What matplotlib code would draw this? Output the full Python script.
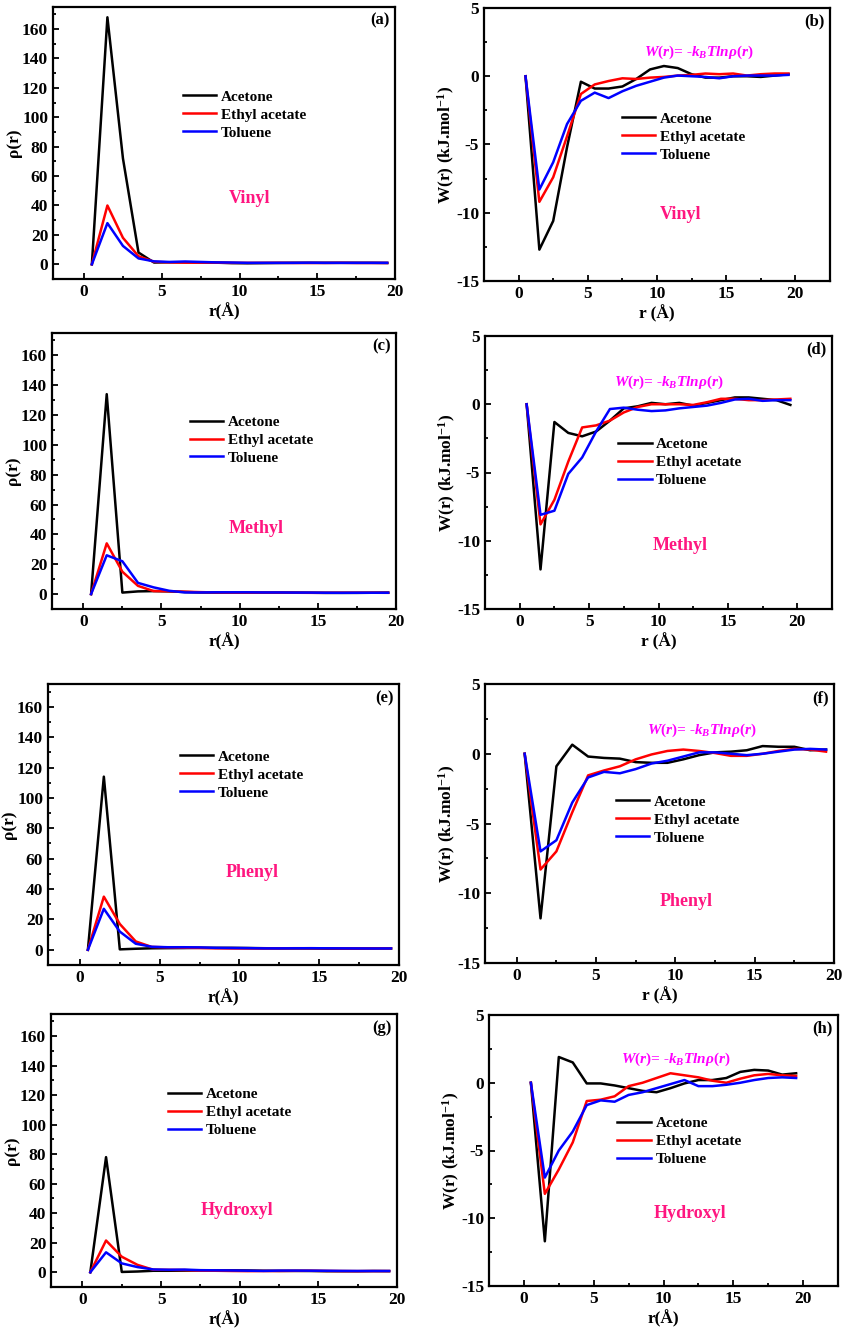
import matplotlib
matplotlib.use("Agg")
import matplotlib.pyplot as plt
from matplotlib.ticker import MultipleLocator

plt.rcParams['font.family'] = ['Liberation Serif', 'DejaVu Serif']
plt.rcParams['font.weight'] = 'bold'
plt.rcParams['axes.unicode_minus'] = False
plt.rcParams['mathtext.fontset'] = 'custom'
plt.rcParams['mathtext.rm'] = 'Liberation Serif:bold'
plt.rcParams['mathtext.it'] = 'Liberation Serif:bold:italic'
plt.rcParams['mathtext.bf'] = 'Liberation Serif:bold'

# ---------------- data ----------------
r = [0.5, 1.5, 2.5, 3.5, 4.5, 5.5, 6.5, 7.5, 8.5, 9.5,
     10.5, 11.5, 12.5, 13.5, 14.5, 15.5, 16.5, 17.5, 18.5, 19.5]
solvents = ["Acetone", "Ethyl acetate", "Toluene"]
groups = ["Vinyl", "Methyl", "Phenyl", "Hydroxyl"]

# rho(r)
rho_vinyl_ace = [0, 168, 72, 8, 1.2, 1.4, 1.4, 1.3, 1.1, 0.8, 0.7, 0.8, 0.9, 1.0, 1.0, 1.0, 1.0, 1.0, 1.0, 0.9]
rho_vinyl_eth = [0, 40, 18, 5.5, 1.7, 1.3, 1.1, 1.1, 1.1, 1.0, 1.0, 1.0, 1.0, 0.9, 0.9, 0.9, 1.0, 0.9, 0.9, 0.9]
rho_vinyl_tol = [0, 28, 12.5, 4.0, 2.0, 1.6, 1.9, 1.6, 1.3, 1.2, 1.0, 1.0, 1.0, 1.0, 1.1, 1.0, 1.0, 1.0, 1.0, 1.0]

rho_methyl_ace = [0, 134, 1.0, 1.8, 2.0, 1.8, 1.4, 1.1, 1.0, 1.0, 1.0, 1.0, 1.0, 1.0, 0.9, 0.8, 0.8, 0.8, 0.9, 1.0]
rho_methyl_eth = [0, 34, 15, 5.5, 2.0, 1.9, 1.6, 1.3, 1.1, 1.0, 1.0, 1.0, 1.0, 0.9, 0.85, 0.85, 0.9, 0.9, 0.9, 0.85]
rho_methyl_tol = [0, 26, 22, 7.5, 4.5, 2.2, 1.1, 1.1, 1.2, 1.2, 1.2, 1.1, 1.1, 1.0, 1.0, 0.9, 0.85, 0.9, 0.9, 0.9]

rho_phenyl_ace = [0, 114, 0.3, 0.7, 1.0, 1.1, 1.15, 1.3, 1.3, 1.3, 1.2, 1.05, 0.95, 0.95, 0.9, 0.8, 0.8, 0.8, 0.9, 0.9]
rho_phenyl_eth = [0, 35, 17, 5.5, 1.9, 1.6, 1.4, 1.2, 1.0, 0.9, 0.9, 0.9, 1.0, 1.05, 1.05, 1.0, 0.9, 0.85, 0.9, 0.95]
rho_phenyl_tol = [0, 27, 12, 4.0, 2.0, 1.7, 1.7, 1.6, 1.3, 1.2, 1.1, 0.95, 0.95, 1.0, 1.05, 1.0, 0.95, 0.9, 0.85, 0.9]

rho_hydroxyl_ace = [0, 78, 0.2, 0.5, 1.0, 1.0, 1.1, 1.2, 1.3, 1.3, 1.2, 1.0, 0.9, 0.9, 0.85, 0.7, 0.7, 0.7, 0.8, 0.75]
rho_hydroxyl_eth = [0, 21.5, 10.5, 5.0, 1.7, 1.6, 1.5, 1.1, 1.0, 0.85, 0.75, 0.8, 0.85, 0.95, 1.0, 0.9, 0.8, 0.75, 0.8, 0.8]
rho_hydroxyl_tol = [0, 13.5, 6.0, 3.5, 1.9, 1.7, 1.8, 1.4, 1.3, 1.2, 1.05, 0.9, 1.1, 1.1, 1.05, 1.0, 0.9, 0.85, 0.85, 0.85]

# W(r)
w_vinyl_ace = [0, -12.7, -10.6, -5.2, -0.4, -0.9, -0.9, -0.75, -0.2, 0.5, 0.75, 0.6, 0.15, -0.1, -0.1, 0.0, 0.0, -0.05, 0.05, 0.15]
w_vinyl_eth = [0, -9.2, -7.4, -4.4, -1.3, -0.6, -0.35, -0.15, -0.2, -0.1, -0.05, 0.05, 0.1, 0.2, 0.15, 0.2, 0.05, 0.15, 0.2, 0.2]
w_vinyl_tol = [0, -8.3, -6.3, -3.5, -1.8, -1.2, -1.6, -1.1, -0.7, -0.4, -0.1, 0.05, 0.0, -0.05, -0.15, 0.0, 0.05, 0.05, 0.05, 0.1]

w_methyl_ace = [0, -12.1, -1.3, -2.1, -2.35, -2.0, -1.2, -0.3, -0.15, 0.1, 0.0, 0.1, -0.1, 0.1, 0.3, 0.5, 0.5, 0.4, 0.3, -0.05]
w_methyl_eth = [0, -8.8, -7.0, -4.2, -1.7, -1.55, -1.2, -0.6, -0.2, 0.0, 0.0, 0.0, -0.05, 0.15, 0.4, 0.4, 0.3, 0.3, 0.35, 0.4]
w_methyl_tol = [0, -8.1, -7.8, -5.1, -3.9, -2.0, -0.35, -0.25, -0.4, -0.5, -0.45, -0.3, -0.2, -0.1, 0.1, 0.35, 0.4, 0.25, 0.3, 0.3]

w_phenyl_ace = [0, -11.8, -0.9, 0.65, -0.2, -0.3, -0.35, -0.6, -0.65, -0.65, -0.4, -0.1, 0.1, 0.15, 0.25, 0.55, 0.5, 0.5, 0.25, 0.3]
w_phenyl_eth = [0, -8.3, -7.0, -4.2, -1.55, -1.2, -0.9, -0.4, -0.05, 0.2, 0.3, 0.2, 0.05, -0.15, -0.15, 0.0, 0.2, 0.35, 0.3, 0.15]
w_phenyl_tol = [0, -7.0, -6.2, -3.5, -1.7, -1.3, -1.4, -1.1, -0.7, -0.5, -0.2, 0.1, 0.1, 0.0, -0.1, 0.0, 0.15, 0.3, 0.35, 0.3]

w_hydroxyl_ace = [0, -11.7, 1.9, 1.5, -0.05, -0.05, -0.2, -0.4, -0.6, -0.7, -0.4, -0.05, 0.2, 0.2, 0.35, 0.8, 0.95, 0.9, 0.6, 0.7]
w_hydroxyl_eth = [0, -8.2, -6.4, -4.4, -1.35, -1.25, -1.0, -0.25, 0.0, 0.35, 0.7, 0.55, 0.4, 0.15, 0.0, 0.3, 0.55, 0.65, 0.55, 0.5]
w_hydroxyl_tol = [0, -7.0, -5.0, -3.6, -1.65, -1.3, -1.4, -0.9, -0.7, -0.4, -0.1, 0.2, -0.25, -0.25, -0.15, 0.0, 0.2, 0.35, 0.4, 0.35]

rho_sets = [
    [rho_vinyl_ace, rho_vinyl_eth, rho_vinyl_tol],
    [rho_methyl_ace, rho_methyl_eth, rho_methyl_tol],
    [rho_phenyl_ace, rho_phenyl_eth, rho_phenyl_tol],
    [rho_hydroxyl_ace, rho_hydroxyl_eth, rho_hydroxyl_tol],
]
w_sets = [
    [w_vinyl_ace, w_vinyl_eth, w_vinyl_tol],
    [w_methyl_ace, w_methyl_eth, w_methyl_tol],
    [w_phenyl_ace, w_phenyl_eth, w_phenyl_tol],
    [w_hydroxyl_ace, w_hydroxyl_eth, w_hydroxyl_tol],
]
left_letters = ["(a)", "(c)", "(e)", "(g)"]
right_letters = ["(b)", "(d)", "(f)", "(h)"]
right_xlabels = ["r (Å)", "r (Å)", "r (Å)", "r(Å)"]

# ---------------- layout ----------------
W_PX, H_PX = 842, 1329
colors = ["#000000", "#FF0000", "#0000FF"]
group_color = "#FF1680"
formula_color = "#FF00FF"

# pixel boxes (left, right, top, bottom)
left_boxes = [(53, 395, 7, 279), (52, 396, 333, 609), (48, 399, 684, 965), (51, 397, 1014, 1287)]
right_boxes = [(484, 830, 8, 281), (485, 832, 336, 609), (485, 834, 684, 963), (489, 838, 1015, 1286)]
right_xlims = [(-2.5, 22.5), (-2.5, 22.5), (-2.0, 20.0), (-2.5, 22.5)]

left_legend = [(0.379, 0.658), (0.40, 0.666), (0.375, 0.730), (0.337, 0.694)]
right_legend = [(0.398, 0.582), (0.383, 0.591), (0.375, 0.566), (0.368, 0.588)]
left_group = [(0.576, 0.297), (0.593, 0.29), (0.582, 0.33), (0.536, 0.28)]
right_group = [(0.568, 0.242), (0.563, 0.233), (0.576, 0.222), (0.577, 0.266)]
formula_pos = [(0.621, 0.839), (0.529, 0.829), (0.62, 0.835), (0.536, 0.838)]

fig = plt.figure(figsize=(W_PX / 100, H_PX / 100), dpi=100)


def make_ax(box):
    l, rr, t, b = box
    return fig.add_axes([l / W_PX, (H_PX - b) / H_PX, (rr - l) / W_PX, (b - t) / H_PX]), (b - t)


def style(ax):
    for s in ax.spines.values():
        s.set_linewidth(1.6)
    ax.tick_params(which='both', direction='in', top=False, right=False, labelsize=12.5, width=1.3)
    ax.tick_params(which='major', length=4)
    ax.tick_params(which='minor', length=2.5)
    for lab in ax.get_xticklabels() + ax.get_yticklabels():
        lab.set_fontweight('bold')


def legend(ax, pos, hpx):
    x, y = pos
    ax.legend(loc='upper left', bbox_to_anchor=(x, y + 10.0 / hpx), frameon=False,
              borderpad=0, borderaxespad=0, handlelength=2.2, handletextpad=0.3,
              labelspacing=0.28, prop={'family': 'Liberation Serif', 'weight': 'bold', 'size': 11})


for i in range(4):
    # left: rho(r)
    ax, hpx = make_ax(left_boxes[i])
    for k in range(3):
        ax.plot(r, rho_sets[i][k], color=colors[k], lw=1.8, label=solvents[k])
    ax.set_xlim(-2, 20)
    ax.set_ylim(-10, 175)
    ax.xaxis.set_major_locator(MultipleLocator(5))
    ax.xaxis.set_minor_locator(MultipleLocator(2.5))
    ax.yaxis.set_major_locator(MultipleLocator(20))
    ax.yaxis.set_minor_locator(MultipleLocator(10))
    ax.set_yticks([0, 20, 40, 60, 80, 100, 120, 140, 160])
    style(ax)
    ax.set_xlabel("r(Å)", fontsize=12.5, fontweight='bold', labelpad=2)
    ax.set_ylabel("ρ(r)", fontsize=12.5, fontweight='bold', labelpad=0)
    legend(ax, left_legend[i], hpx)
    ax.text(left_group[i][0], left_group[i][1], groups[i], transform=ax.transAxes,
            ha='center', va='center', color=group_color, fontsize=13, fontweight='bold')
    ax.text(0.985, 0.95, left_letters[i], transform=ax.transAxes, ha='right', va='center',
            fontsize=12, fontweight='bold')

    # right: W(r)
    ax, hpx = make_ax(right_boxes[i])
    for k in range(3):
        ax.plot(r, w_sets[i][k], color=colors[k], lw=1.8, label=solvents[k])
    ax.set_xlim(*right_xlims[i])
    ax.set_ylim(-15, 5)
    ax.xaxis.set_major_locator(MultipleLocator(5))
    ax.xaxis.set_minor_locator(MultipleLocator(2.5))
    ax.yaxis.set_major_locator(MultipleLocator(5))
    ax.yaxis.set_minor_locator(MultipleLocator(2.5))
    ax.set_xticks([0, 5, 10, 15, 20])
    style(ax)
    ax.set_xlabel(right_xlabels[i], fontsize=12.5, fontweight='bold', labelpad=2)
    ax.set_ylabel(r"W(r) (kJ.mol$^{-1}$)", fontsize=12.5, fontweight='bold', labelpad=-1)
    legend(ax, right_legend[i], hpx)
    ax.text(right_group[i][0], right_group[i][1], groups[i], transform=ax.transAxes,
            ha='center', va='center', color=group_color, fontsize=13, fontweight='bold')
    ax.text(formula_pos[i][0], formula_pos[i][1], r"$W(r)$= -$k_BTln\rho(r)$",
            transform=ax.transAxes, ha='center', va='center', color=formula_color,
            fontsize=11, fontweight='bold', fontstyle='italic')
    ax.text(0.985, 0.95, right_letters[i], transform=ax.transAxes, ha='right', va='center',
            fontsize=12, fontweight='bold')

fig.savefig("out.png", dpi=100)
